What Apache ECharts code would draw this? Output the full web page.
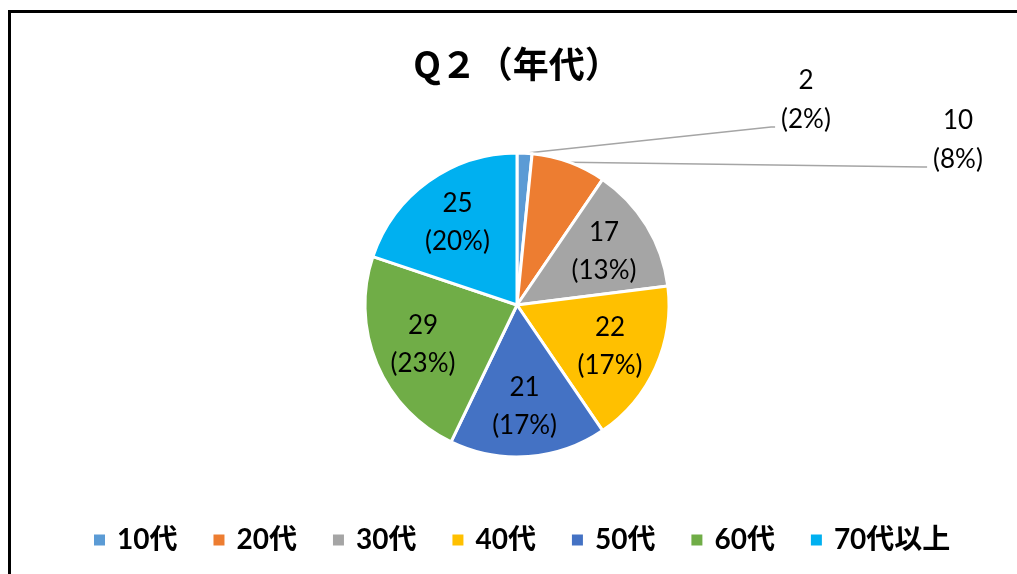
<!DOCTYPE html>
<html>
<head>
<meta charset="utf-8">
<script src="https://cdn.jsdelivr.net/npm/echarts@6/dist/echarts.min.js"></script>
<style>
    html, body { margin: 0; padding: 0; background: #fff; }
    #main { width: 1017px; height: 574px; }
</style>
</head>
<body>
<div id="main"></div>
<script>
// Q2 年代別の回答数
var categories = ["10代", "20代", "30代", "40代", "50代", "60代", "70代以上"];
var counts = [2, 10, 17, 22, 21, 29, 25];
var colors = ["#5B9BD5", "#ED7D31", "#A5A5A5", "#FFC000", "#4472C4", "#70AD47", "#00B0F0"];

var chart = echarts.init(document.getElementById("main"));

var total = counts.reduce(function (a, b) { return a + b; }, 0);
var pct = function (v) {
    return Math.round(v / total * 100) + "%";
};
var fmtInner = function (p) {
    return p.value + "\n(" + pct(p.value) + ")";
};
// 外側ラベル: 下に空行を足して引き出し線の端を下げる
var fmtOuter = function (p) {
    return p.value + "\n(" + pct(p.value) + ")\n{gap| }";
};

// 外側ラベルの位置 (小さいスライスのみ)  [x, 引き出し線の高さ]
var outerLabelPos = {
    0: [806, 127],
    1: [958, 167]
};

var option = {
    animation: false,
    title: {
        text: "Q２（年代）",
        left: 512,
        top: 41,
        textAlign: "center",
        textStyle: {
            fontFamily: "'Noto Sans CJK JP', sans-serif",
            fontWeight: "bold",
            fontSize: 36,
            color: "#000"
        }
    },
    legend: {
        top: 521,
        left: 87,
        icon: "rect",
        itemWidth: 13,
        itemHeight: 13,
        itemGap: 34,
        data: categories,
        textStyle: {
            fontFamily: "Lato, 'Noto Sans CJK JP', sans-serif",
            fontWeight: "bold",
            fontSize: 28,
            color: "#000",
            padding: [0, 0, 0, 6]
        }
    },
    graphic: [{
        type: "rect",
        shape: { x: 9.5, y: 11.5, width: 1200, height: 800 },
        style: { fill: "none", stroke: "#000", lineWidth: 3 },
        silent: true
    }],
    series: [
        {
            name: "年代",
            type: "pie",
            center: [517, 305],
            radius: [0, 152],
            startAngle: 90,
            clockwise: true,
            avoidLabelOverlap: false,
            emphasis: { disabled: true },
            itemStyle: { borderColor: "#fff", borderWidth: 3 },
            data: categories.map(function (name, i) {
                var o = { name: name, value: counts[i], itemStyle: { color: colors[i] } };
                if (i <= 1) {
                    o.label = { show: true, position: "outside" };
                    o.labelLine = { show: true, length: 4, length2: 4 };
                } else {
                    o.label = { show: false };
                    o.labelLine = { show: false };
                }
                return o;
            }),
            label: {
                formatter: fmtOuter,
                fontFamily: "Lato, 'Noto Sans', sans-serif",
                fontSize: 26,
                lineHeight: 39,
                color: "#000",
                align: "center",
                padding: [0, 6, 0, 6],
                rich: {
                    gap: { lineHeight: 53, fontSize: 10 }
                }
            },
            labelLine: {
                lineStyle: { color: "#A5A5A5", width: 1.5 }
            },
            labelLayout: function (params) {
                var p = outerLabelPos[params.dataIndex];
                if (p) {
                    return { x: p[0], y: p[1], align: "center", verticalAlign: "middle" };
                }
            }
        },
        {
            // 内側ラベル用の透明なリング
            name: "ラベル",
            type: "pie",
            center: [517, 305],
            radius: [46, 152],
            startAngle: 90,
            clockwise: true,
            silent: true,
            emphasis: { disabled: true },
            itemStyle: { color: "rgba(0,0,0,0)" },
            data: categories.map(function (name, i) {
                return { name: name, value: counts[i], label: { show: i > 1 } };
            }),
            label: {
                position: "inside",
                formatter: fmtInner,
                fontFamily: "Lato, 'Noto Sans', sans-serif",
                fontSize: 26,
                lineHeight: 38,
                color: "#000"
            },
            labelLine: { show: false }
        }
    ]
};

chart.setOption(option);

window.addEventListener("resize", function () {
    chart.resize();
});
</script>
</body>
</html>
